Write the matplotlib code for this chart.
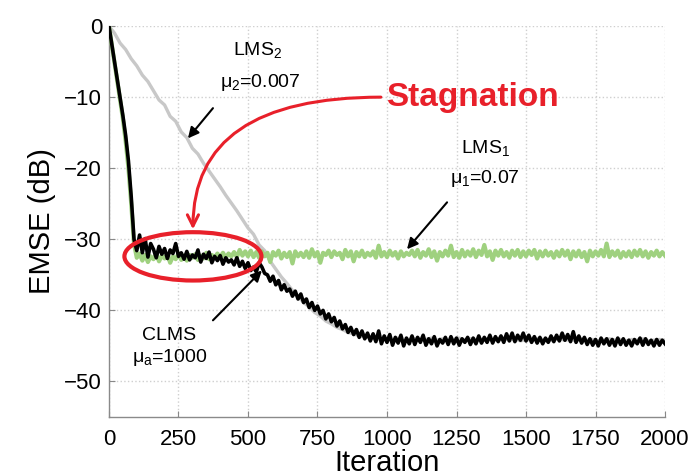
import numpy as np
import matplotlib
matplotlib.use("Agg")
import matplotlib.pyplot as plt
from matplotlib.patches import Ellipse

plt.rcParams['font.family'] = ['Liberation Sans', 'DejaVu Sans']
plt.rcParams['mathtext.fontset'] = 'custom'
plt.rcParams['mathtext.rm'] = 'Liberation Sans'
plt.rcParams['mathtext.it'] = 'Liberation Sans:italic'

# ---------------- data ----------------
clms_iter = list(range(0, 2001, 10))
clms_db = [
    0, -2.5, -5.1, -7.4, -10.0, -12.6, -15.4, -19.0, -24.0, -30.0,
    -31.6, -29.4, -31.9, -29.9, -32.5, -30.6, -31.4, -32.6, -31.0, -32.1,
    -31.3, -32.7, -31.5, -32.0, -30.6, -32.4, -31.9, -32.8, -31.7, -32.9,
    -32.2, -32.6, -31.5, -33.2, -32.1, -32.7, -31.8, -33.3, -32.4, -33.0,
    -32.3, -33.5, -32.6, -33.2, -32.9, -33.6, -32.6, -33.8, -33.1, -34.1,
    -33.3, -34.4, -33.9, -34.6, -33.3, -33.9, -34.8, -35.0, -35.9, -35.2,
    -36.4, -35.8, -37.1, -36.4, -37.3, -37.0, -38.0, -37.3, -38.4, -37.7,
    -38.9, -38.4, -39.6, -38.9, -40.0, -39.4, -40.5, -40.0, -41.2, -40.5,
    -41.6, -41.0, -42.2, -41.5, -42.6, -42.0, -43.1, -42.4, -43.4, -42.7,
    -43.8, -42.9, -44.0, -43.2, -44.3, -43.3, -44.4, -42.9, -44.7, -43.6,
    -44.5, -43.4, -44.9, -43.8, -44.6, -43.5, -45.0, -43.9, -44.7, -43.6,
    -44.8, -43.8, -44.5, -43.5, -44.9, -44.0, -44.7, -43.7, -45.0, -44.1,
    -44.6, -43.8, -44.8, -43.7, -44.7, -43.9, -44.9, -44.0, -44.5, -43.8,
    -44.8, -43.9, -44.7, -43.6, -44.6, -43.8, -44.5, -43.5, -44.6, -43.7,
    -44.4, -43.6, -44.5, -43.3, -44.3, -43.2, -44.4, -43.5, -44.2, -43.2,
    -44.3, -43.5, -44.5, -43.7, -44.6, -43.8, -44.7, -43.9, -44.5, -43.6,
    -44.4, -43.5, -44.3, -43.2, -44.2, -43.4, -44.4, -43.0, -44.5, -43.6,
    -44.6, -43.8, -44.8, -44.0, -44.9, -44.1, -45.0, -43.9, -44.7, -44.0,
    -44.9, -44.1, -45.0, -43.9, -44.8, -44.0, -44.9, -44.2, -45.0, -44.1,
    -44.7, -43.9, -44.9, -44.0, -44.8, -44.2, -45.0, -44.1, -44.9, -44.2,
    -44.7,
]

lms1_iter = list(range(0, 2001, 10))
lms1_db = [
    0, -2.6, -5.2, -7.7, -10.3, -13.0, -16.2, -20.0, -25.0, -30.6,
    -32.6, -32.0, -33.0, -32.2, -33.2, -32.4, -32.8, -32.0, -33.1, -32.3,
    -32.7, -32.1, -33.3, -32.4, -32.8, -32.0, -32.9, -32.3, -33.0, -32.2,
    -32.6, -32.1, -32.9, -32.3, -32.7, -31.9, -32.8, -32.2, -32.6, -32.0,
    -32.5, -31.9, -32.6, -32.0, -32.4, -31.8, -32.5, -31.5, -32.3, -31.7,
    -32.4, -31.6, -32.5, -31.8, -32.6, -31.7, -32.4, -31.9, -33.2, -31.8,
    -32.3, -31.6, -32.7, -31.9, -32.5, -31.8, -33.4, -31.7, -32.4, -31.9,
    -32.5, -31.7, -32.6, -31.4, -32.4, -31.8, -33.3, -31.9, -32.2, -31.6,
    -32.5, -31.7, -32.2, -31.9, -32.8, -31.5, -32.4, -31.7, -33.1, -31.8,
    -32.4, -31.6, -32.5, -31.9, -32.3, -31.7, -32.6, -30.9, -32.4, -31.8,
    -32.5, -31.6, -32.3, -31.8, -32.7, -31.7, -32.4, -31.9, -32.2, -31.6,
    -32.4, -31.5, -32.6, -31.8, -32.3, -31.4, -32.5, -31.7, -33.0, -31.8,
    -32.4, -31.6, -32.3, -30.9, -32.5, -31.8, -32.6, -31.5, -32.4, -31.7,
    -32.3, -31.4, -32.5, -31.6, -32.2, -30.8, -32.4, -31.7, -32.9, -31.6,
    -32.3, -31.5, -32.4, -31.8, -32.6, -31.6, -32.3, -31.5, -32.5, -31.7,
    -32.4, -31.6, -32.2, -31.5, -32.7, -31.7, -32.4, -31.6, -32.3, -31.8,
    -32.6, -31.7, -32.4, -31.5, -32.3, -31.6, -32.8, -31.7, -32.4, -31.6,
    -32.5, -31.8, -33.1, -31.6, -32.4, -31.7, -32.3, -31.5, -32.4, -30.6,
    -32.5, -31.7, -32.3, -31.6, -32.6, -31.8, -32.4, -31.7, -32.5, -31.6,
    -32.3, -31.5, -32.4, -31.7, -32.6, -31.8, -32.3, -31.6, -32.4, -31.8,
    -32.3,
]

lms2_iter = list(range(0, 2001, 20))
lms2_db = [
    0, -1.0, -2.4, -3.3, -4.6, -5.6, -6.9, -7.8, -9.1, -10.4,
    -11.1, -12.7, -13.4, -14.9, -15.7, -17.2, -18.0, -19.3, -20.4, -21.5,
    -22.6, -23.8, -24.9, -26.0, -27.2, -28.4, -29.3, -30.8, -31.6, -33.1,
    -34.2, -35.3, -36.2, -37.2, -38.0, -38.9, -39.5, -40.3, -40.8, -41.5,
    -41.9, -42.4, -42.7, -43.1, -43.3, -43.6, -43.7, -43.9, -44.0, -44.1,
    -44.0, -44.2, -43.9, -44.3, -44.1, -44.0, -44.2, -44.1, -43.9, -44.2,
    -44.0, -44.3, -44.1, -43.9, -44.2, -44.0, -44.1, -44.3, -44.0, -44.2,
    -44.1, -43.9, -44.2, -44.0, -44.3, -44.1, -44.2, -44.0, -44.1, -44.3,
    -44.1, -44.0, -44.2, -44.1, -44.3, -44.0, -44.2, -44.1, -44.3, -44.2,
    -44.0, -44.2, -44.1, -44.3, -44.1, -44.2, -44.0, -44.3, -44.2, -44.1,
    -44.2,
]

x_ticks = [0, 250, 500, 750, 1000, 1250, 1500, 1750, 2000]
y_ticks = [0, -10, -20, -30, -40, -50]

# ---------------- figure ----------------
fig = plt.figure(figsize=(6.88, 4.74), dpi=100)
ax = fig.add_axes([0.1584, 0.1203, 0.8082, 0.8247])

ax.plot(lms2_iter, lms2_db, color='#c8c8c8', lw=2.4, zorder=2)
ax.plot(lms1_iter, lms1_db, color='#9fd17f', lw=3.0, zorder=3)
ax.plot(clms_iter, clms_db, color='black', lw=2.6, zorder=4)

ax.set_xlim(0, 2000)
ax.set_ylim(-55, 0)
ax.set_xticks(x_ticks)
ax.set_yticks(y_ticks)
ax.set_yticklabels(['0', '\u221210', '\u221220', '\u221230', '\u221240', '\u221250'])
ax.tick_params(direction='in', length=4, color='#888888', labelsize=16, pad=5)
ax.tick_params(axis='x', pad=9)
ax.grid(True, linestyle=':', color='#cfcfcf', lw=1.0)
for s in ['top', 'right']:
    ax.spines[s].set_visible(False)
for s in ['left', 'bottom']:
    ax.spines[s].set_color('#8a8a8a')
    ax.spines[s].set_linewidth(1.0)

ax.set_xlabel('Iteration', fontsize=21, labelpad=-1)
ax.set_ylabel('EMSE (dB)', fontsize=21, labelpad=6)

# ---------------- annotations ----------------
tfs = 14
ax.text(536, -3.4, 'LMS$_\\mathregular{2}$', fontsize=tfs, ha='center', va='center', zorder=6)
ax.text(543, -8.0, '\u03bc$_\\mathregular{2}$=0.007', fontsize=tfs, ha='center', va='center', zorder=6)
ax.annotate('', xy=(284, -15.8), xytext=(374, -11.55),
            arrowprops=dict(arrowstyle='-|>', color='black', lw=1.5,
                            mutation_scale=16, shrinkA=0, shrinkB=0), zorder=6)

ax.text(1353, -17.2, 'LMS$_\\mathregular{1}$', fontsize=tfs, ha='center', va='center', zorder=6)
ax.text(1353, -21.4, '\u03bc$_\\mathregular{1}$=0.07', fontsize=tfs, ha='center', va='center', zorder=6)
ax.annotate('', xy=(1072, -31.4), xytext=(1216, -24.8),
            arrowprops=dict(arrowstyle='-|>', color='black', lw=1.5,
                            mutation_scale=16, shrinkA=0, shrinkB=0), zorder=6)

ax.text(216, -43.5, 'CLMS', fontsize=tfs, ha='center', va='center', zorder=6)
ax.text(220, -46.6, '\u03bc$_\\mathregular{a}$=1000', fontsize=tfs, ha='center', va='center', zorder=6)
ax.annotate('', xy=(550, -34.4), xytext=(374, -41.4),
            arrowprops=dict(arrowstyle='-|>', color='black', lw=1.5,
                            mutation_scale=16, shrinkA=0, shrinkB=0), zorder=6)

red = '#e8202a'
ax.text(1306, -10.1, 'Stagnation', fontsize=24, fontweight='bold', color=red,
        ha='center', va='center', zorder=6)
ax.annotate('', xy=(302, -28.6), xytext=(978, -10.0),
            arrowprops=dict(arrowstyle='->', color=red, lw=2.2, mutation_scale=20,
                            connectionstyle='angle3,angleA=180,angleB=90',
                            shrinkA=0, shrinkB=0), zorder=6)
ax.add_patch(Ellipse((302, -32.4), 493, 6.8, fill=False, edgecolor=red, lw=3, zorder=7))

fig.savefig('out.png', dpi=100)
